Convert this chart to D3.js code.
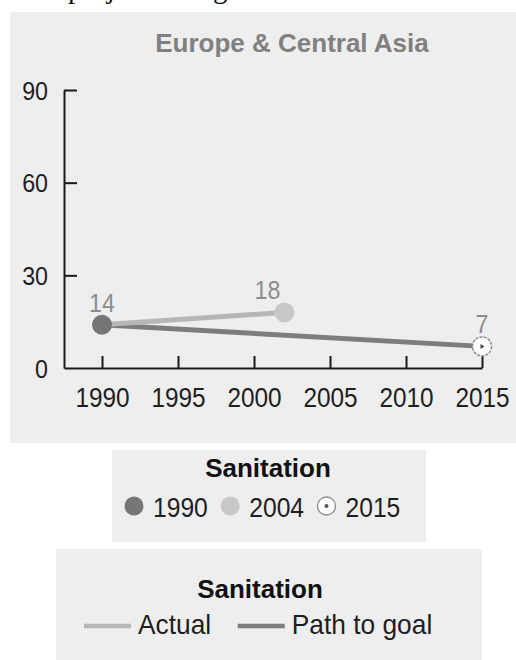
<!DOCTYPE html>
<html>
<head>
<meta charset="utf-8">
<script src="https://cdn.jsdelivr.net/npm/d3@7"></script>
<style>
  html, body { margin: 0; padding: 0; background: #fff; }
  svg { display: block; }
  text { font-family: "Liberation Sans", Arial, sans-serif; }
</style>
</head>
<body>
<svg id="chart" width="516" height="660"></svg>
<script>
// Sanitation, Europe & Central Asia: share without access (%)
const regionTitle = "Europe & Central Asia";
const legendTitle = "Sanitation";

const actualYears  = [1990, 2002];
const actualValues = [14, 18];
const goalYears    = [1990, 2015];
const goalValues   = [14, 7];

const pointLabels  = ["1990", "2004", "2015"];
const lineLabels   = ["Actual", "Path to goal"];

const yTicks = [0, 30, 60, 90];
const xTicks = [1990, 1995, 2000, 2005, 2010, 2015];

const C = {
  panel: "#eeeeee",
  axis: "#1a1a1a",
  title: "#808080",
  value: "#8c8c8c",
  actual: "#b6b6b6",
  goal: "#7d7d7d",
  dot1990: "#767676",
  dot2004: "#c8c8c8",
  ink: "#1e1e1e"
};

const svg = d3.select("#chart");

// narrow the glyphs horizontally, like a condensed face
function condense(sel, f) {
  sel.each(function () {
    const L = this.getComputedTextLength();
    d3.select(this).attr("textLength", L * f).attr("lengthAdjust", "spacingAndGlyphs");
  });
}

// clipped running text above the figure
svg.append("text")
  .attr("x", 48).attr("y", -2)
  .style("font-family", "'Liberation Serif', 'Times New Roman', serif")
  .style("font-size", "29px").attr("fill", "#111")
  .text("e projected to get there");

// chart panel
svg.append("rect").attr("x", 10).attr("y", 12).attr("width", 506).attr("height", 431).attr("fill", C.panel);

svg.append("text")
  .attr("x", 292).attr("y", 52).attr("text-anchor", "middle")
  .style("font-size", "26px").style("font-weight", "bold").attr("fill", C.title)
  .text(regionTitle);

const x = d3.scaleLinear().domain([1987.5, 2015]).range([64, 482]);
const y = d3.scaleLinear().domain([0, 90]).range([368, 90]);

// y axis
const gy = svg.append("g").attr("transform", `translate(${x(1987.5)},0)`)
  .call(d3.axisLeft(y).tickValues(yTicks).tickSize(-13).tickSizeOuter(0).tickFormat(d3.format("d")));
gy.selectAll("line").attr("stroke", C.axis).attr("stroke-width", 2);
gy.select(".domain").attr("stroke", C.axis).attr("stroke-width", 2);
gy.selectAll(".tick").filter(d => d === 0).select("line").remove();
gy.selectAll("text").attr("x", -16).attr("dy", "0.36em")
  .style("font-size", "25px").style("font-family", "'Liberation Sans', Arial, sans-serif").attr("fill", C.ink);
condense(gy.selectAll("text"), 0.93);

// x axis
const gx = svg.append("g").attr("transform", `translate(0,${y(0)})`)
  .call(d3.axisBottom(x).tickValues(xTicks).tickSize(-12).tickSizeOuter(0).tickFormat(d3.format("d")));
gx.selectAll("line").attr("stroke", C.axis).attr("stroke-width", 2);
gx.select(".domain").attr("stroke", C.axis).attr("stroke-width", 2);
gx.selectAll("text").attr("y", 39).attr("dy", null)
  .style("font-size", "28px").style("font-family", "'Liberation Sans', Arial, sans-serif").attr("fill", C.ink);
condense(gx.selectAll("text"), 0.87);

// lines
const line = d3.line().x(d => x(d[0])).y(d => y(d[1]));
svg.append("path").datum(d3.zip(goalYears, goalValues)).attr("d", line)
  .attr("fill", "none").attr("stroke", C.goal).attr("stroke-width", 5);
svg.append("path").datum(d3.zip(actualYears, actualValues)).attr("d", line)
  .attr("fill", "none").attr("stroke", C.actual).attr("stroke-width", 5);

// points
svg.append("circle").attr("cx", x(actualYears[1])).attr("cy", y(actualValues[1])).attr("r", 10).attr("fill", C.dot2004);
svg.append("circle").attr("cx", x(actualYears[0])).attr("cy", y(actualValues[0])).attr("r", 10).attr("fill", C.dot1990);
const gx15 = x(goalYears[1]), gy15 = y(goalValues[1]);
svg.append("circle").attr("cx", gx15).attr("cy", gy15).attr("r", 9.5)
  .attr("fill", "#fff").attr("stroke", "#8a8a8a").attr("stroke-width", 1.5).attr("stroke-dasharray", "3 1.2");
svg.append("path")
  .attr("d", `M${gx15 - 1.5},${gy15 - 2.5}L${gx15 + 2.5},${gy15}L${gx15 - 1.5},${gy15 + 2.5}Z`)
  .attr("fill", "#444");

// value labels
const valueMarks = [
  { yr: actualYears[0], v: actualValues[0], dx: 0 },
  { yr: actualYears[1], v: actualValues[1], dx: -17 },
  { yr: goalYears[1], v: goalValues[1], dx: 0 }
];
const vl = svg.selectAll("text.val").data(valueMarks).join("text").attr("class", "val")
  .attr("x", d => x(d.yr) + d.dx).attr("y", d => y(d.v) - 13)
  .attr("text-anchor", "middle")
  .style("font-size", "25px").attr("fill", C.value)
  .text(d => d.v);
condense(vl, 0.93);

// legend 1: points
svg.append("rect").attr("x", 112).attr("y", 450).attr("width", 314).attr("height", 92).attr("fill", C.panel);
svg.append("text").attr("x", 268).attr("y", 477).attr("text-anchor", "middle")
  .style("font-size", "26px").style("font-weight", "bold").attr("fill", "#111").text(legendTitle);

let cx = 134;
pointLabels.forEach((lab, i) => {
  const cy = 506;
  if (i === 0) svg.append("circle").attr("cx", cx).attr("cy", cy).attr("r", 9.5).attr("fill", C.dot1990);
  if (i === 1) svg.append("circle").attr("cx", cx).attr("cy", cy).attr("r", 9.5).attr("fill", C.dot2004);
  if (i === 2) {
    svg.append("circle").attr("cx", cx).attr("cy", cy).attr("r", 9)
      .attr("fill", "#fff").attr("stroke", "#8a8a8a").attr("stroke-width", 1.3);
    svg.append("circle").attr("cx", cx).attr("cy", cy).attr("r", 2).attr("fill", "#555");
  }
  const t = svg.append("text").attr("x", cx + 19).attr("y", 517)
    .style("font-size", "28px").attr("fill", C.ink).text(lab);
  condense(t, 0.88);
  cx = cx + 19 + t.node().getComputedTextLength() * 0.88 + 29;
});

// legend 2: lines
svg.append("rect").attr("x", 56).attr("y", 549).attr("width", 426).attr("height", 111).attr("fill", C.panel);
svg.append("text").attr("x", 260).attr("y", 598).attr("text-anchor", "middle")
  .style("font-size", "26px").style("font-weight", "bold").attr("fill", "#111").text(legendTitle);

let lx = 84;
lineLabels.forEach((lab, i) => {
  svg.append("line").attr("x1", lx).attr("x2", lx + 47).attr("y1", 626).attr("y2", 626)
    .attr("stroke", i === 0 ? C.actual : C.goal).attr("stroke-width", 4.5);
  const t = svg.append("text").attr("x", lx + 54).attr("y", 634)
    .style("font-size", "28px").attr("fill", C.ink).text(lab);
  condense(t, 0.94);
  lx = lx + 54 + t.node().getComputedTextLength() * 0.94 + 31;
});
</script>
</body>
</html>
